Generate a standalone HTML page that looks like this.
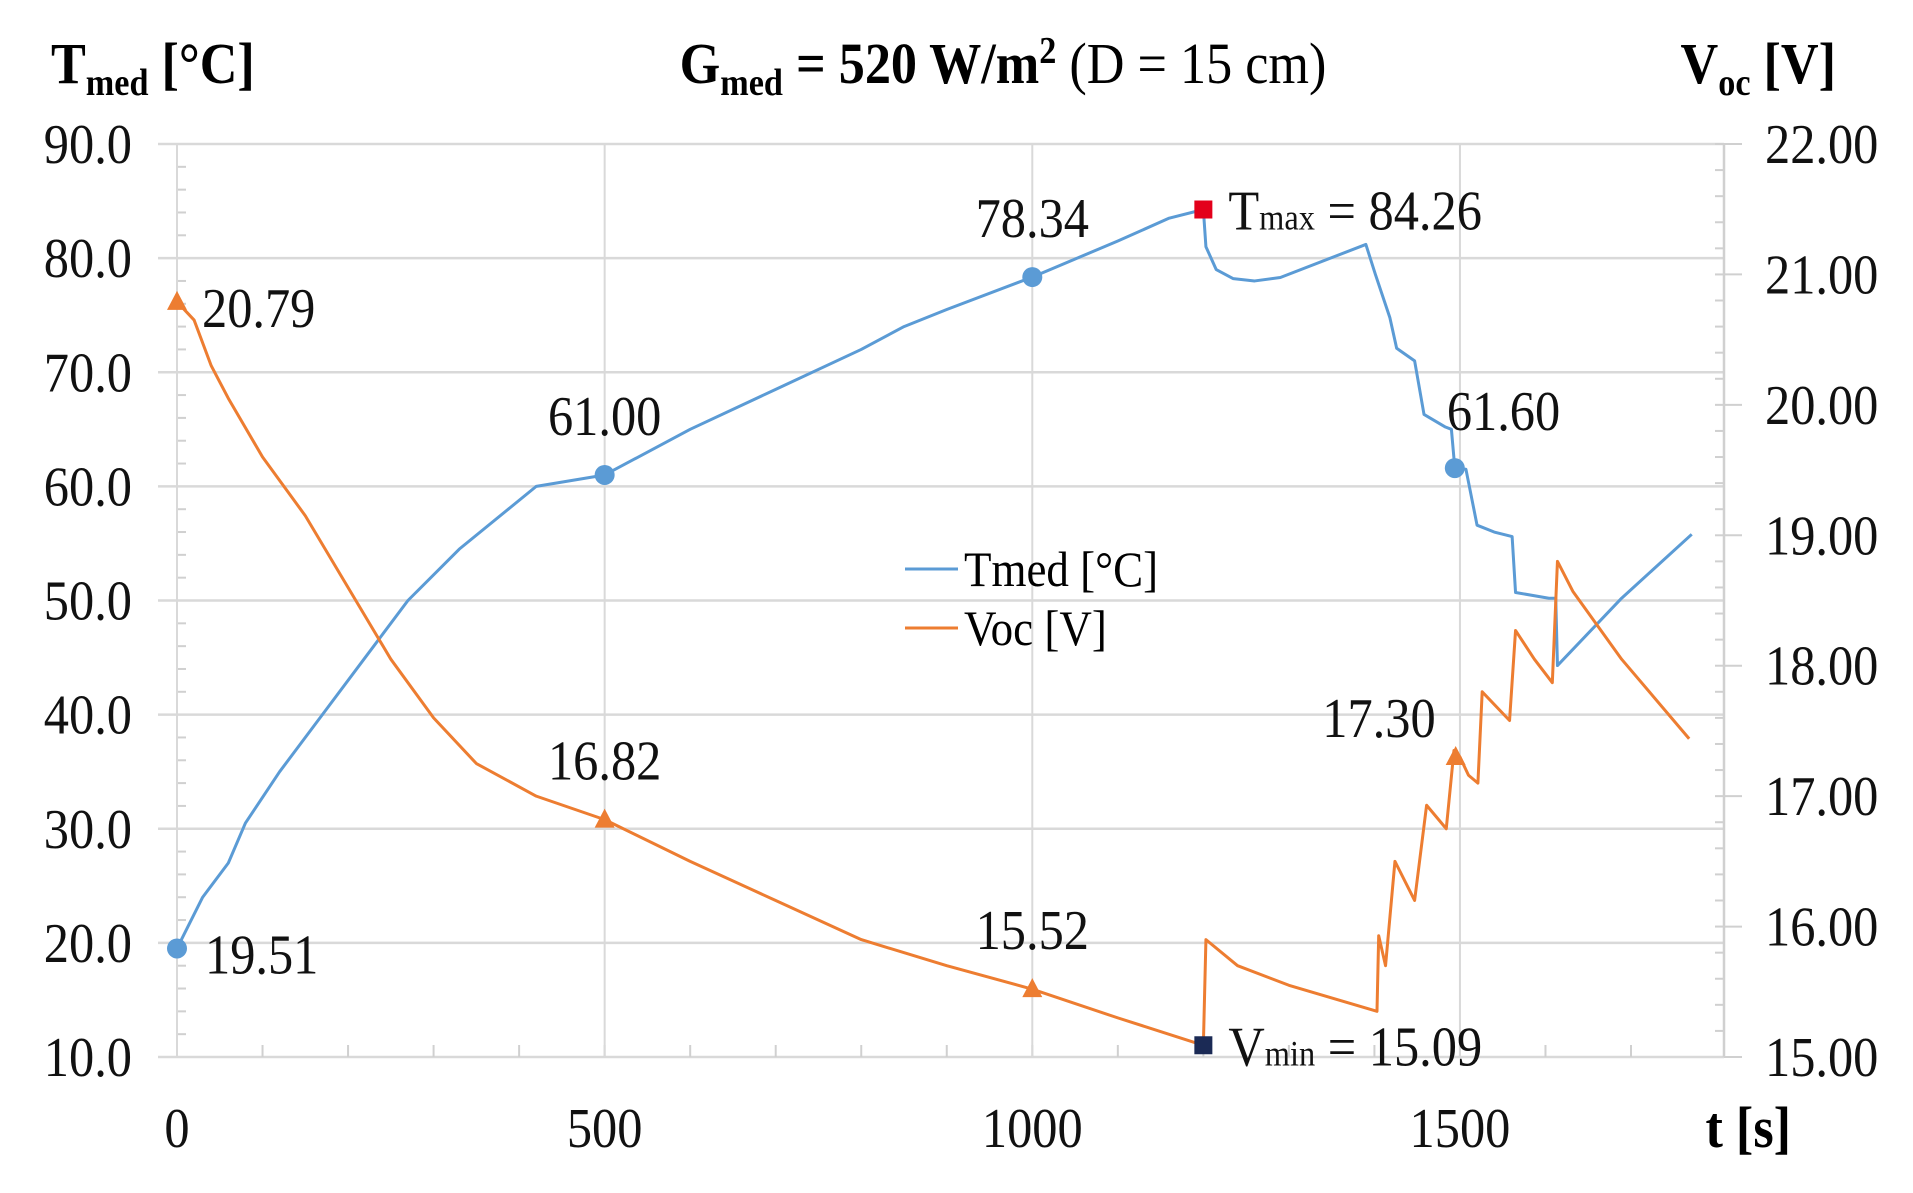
<!DOCTYPE html>
<html><head><meta charset="utf-8"><style>
html,body{margin:0;padding:0;background:#fff;}
svg{display:block;font-family:"Liberation Serif",serif;}
</style></head><body>
<svg id="chart" width="1913" height="1193" viewBox="0 0 1913 1193" xmlns="http://www.w3.org/2000/svg">
<rect width="1913" height="1193" fill="#fff"/>
<g id="grid"></g>
<g id="series"></g>
<g id="labels"></g>
<g transform="translate(51,83) scale(0.9,1)"><text font-size="58" font-weight="bold">T<tspan font-size="38" dy="12">med</tspan><tspan dy="-12"> [°C]</tspan></text></g>
<g transform="translate(1003,83) scale(0.9,1)"><text font-size="58" text-anchor="middle"><tspan font-weight="bold">G<tspan font-size="38" dy="12">med</tspan><tspan dy="-12"> = 520 W/m</tspan><tspan font-size="38" dy="-20">2</tspan></tspan><tspan dy="20"> (D = 15 cm)</tspan></text></g>
<g transform="translate(1836,83) scale(0.9,1)"><text font-size="58" font-weight="bold" text-anchor="end">V<tspan font-size="38" dy="12">oc</tspan><tspan dy="-12"> [V]</tspan></text></g>
<g transform="translate(1791,1147) scale(0.9,1)"><text font-size="58" font-weight="bold" text-anchor="end">t [s]</text></g>
<g>
<line x1="905" y1="569" x2="958" y2="569" stroke="#5b9bd5" stroke-width="3"/>
<g transform="translate(964,586) scale(0.9,1)"><text font-size="50">Tmed [°C]</text></g>
<line x1="905" y1="628" x2="958" y2="628" stroke="#ed7d31" stroke-width="3"/>
<g transform="translate(964,645) scale(0.9,1)"><text font-size="50">Voc [V]</text></g>
</g>
</svg>
<script>
const tTimes=[0,30,60,80,120,170,220,270,330,420,500,600,700,800,850,900,1000,1100,1160,1200,1203,1215,1235,1260,1290,1390,1401,1418,1426,1447,1458,1483,1490,1494,1507,1520,1540,1561,1565,1604,1612,1614,1689,1771];
const tValues=[19.51,24,27,30.5,35,40,45,50,54.5,60,61.0,65,68.5,72,74,75.5,78.34,81.5,83.5,84.26,81,79,78.2,78,78.3,81.2,78.6,74.8,72.1,71,66.3,65.2,65,61.6,61.5,56.6,56,55.6,50.7,50.2,50.2,44.3,50.2,55.8];
const vTimes=[0,20,40,60,100,150,200,250,300,350,420,500,600,700,800,900,1000,1100,1200,1203,1240,1300,1403,1405,1413,1424,1447,1461,1484,1493,1500,1510,1521,1526,1558,1565,1587,1608,1614,1632,1689,1768];
const vValues=[20.79,20.65,20.3,20.05,19.6,19.15,18.6,18.05,17.6,17.25,17.0,16.82,16.5,16.2,15.9,15.7,15.52,15.3,15.09,15.9,15.7,15.55,15.35,15.93,15.7,16.5,16.2,16.93,16.75,17.35,17.3,17.16,17.1,17.8,17.58,18.27,18.05,17.87,18.8,18.57,18.05,17.44];
const xTicks=[0,500,1000,1500];
const leftTicks=[10,20,30,40,50,60,70,80,90];
const rightTicks=[15,16,17,18,19,20,21,22];
const tMarkT=[0,500,1000,1494];
const tMarkV=[19.51,61.0,78.34,61.6];
const tMarkLabels=["19.51","61.00","78.34","61.60"];
const vMarkT=[0,500,1000,1495];
const vMarkV=[20.79,16.82,15.52,17.3];
const vMarkLabels=["20.79","16.82","15.52","17.30"];
const tMax=[1200,84.26];
const vMin=[1200,15.09];

const X0=177,XPX=0.8553,YT=144,YB=1057,XR=1724;
const X=t=>X0+t*XPX;
const YL=v=>YT+(90-v)*(YB-YT)/80;
const YR=v=>YT+(22-v)*(YB-YT)/7;
const NS="http://www.w3.org/2000/svg";
function mk(tag,attrs,parent){const e=document.createElementNS(NS,tag);for(const k in attrs)e.setAttribute(k,attrs[k]);parent.appendChild(e);return e;}
const grid=document.getElementById('grid'),ser=document.getElementById('series'),lab=document.getElementById('labels');
function label(x,y,str,anchor,parent){const g=mk('g',{transform:`translate(${x},${y}) scale(0.9,1)`},parent);const t=mk('text',{'font-size':56,'text-anchor':anchor,fill:'#111'},g);t.textContent=str;return g;}

leftTicks.forEach(v=>{const l=mk('line',{x1:158,x2:XR,y1:YL(v),y2:YL(v),stroke:'#d9d9d9','stroke-width':2.5},grid);


const g=label(132,YL(v)+19,v.toFixed(1),'end',lab);

});
for(let v=12;v<90;v+=2){if(v%10)mk('line',{x1:177,x2:186,y1:YL(v),y2:YL(v),stroke:'#d0d0d0','stroke-width':2},grid);}
for(let v=15.2;v<22;v+=0.2){mk('line',{x1:1715,x2:1724,y1:YR(v),y2:YR(v),stroke:'#d0d0d0','stroke-width':2},grid);}
rightTicks.forEach(v=>{mk('line',{x1:1724,x2:1742,y1:YR(v),y2:YR(v),stroke:'#d0d0d0','stroke-width':2},grid);
const g=label(1765,YR(v)+19,v.toFixed(2),'start',lab);

});
for(let t=100;t<1800;t+=100){mk('line',{x1:X(t),x2:X(t),y1:YB-12,y2:YB,stroke:'#d0d0d0','stroke-width':2},grid);}
xTicks.forEach(t=>{const l=mk('line',{x1:X(t),x2:X(t),y1:YT,y2:YB,stroke:'#d9d9d9','stroke-width':2},grid);


const g=label(X(t),1147,String(t),'middle',lab);

});
const ra=mk('line',{x1:XR,x2:XR,y1:YT,y2:YB,stroke:'#d0d0d0','stroke-width':2.5},grid);



const tl=mk('polyline',{points:tTimes.map((t,i)=>X(t)+','+YL(tValues[i])).join(' '),fill:'none',stroke:'#5b9bd5','stroke-width':3,'stroke-linejoin':'round'},ser);


const vl=mk('polyline',{points:vTimes.map((t,i)=>X(t)+','+YR(vValues[i])).join(' '),fill:'none',stroke:'#ed7d31','stroke-width':3,'stroke-linejoin':'round'},ser);



tMarkT.forEach((t,i)=>{const c=mk('circle',{cx:X(t),cy:YL(tMarkV[i]),r:10,fill:'#5b9bd5'},ser);

});
vMarkT.forEach((t,i)=>{const x=X(t),y=YR(vMarkV[i]);const p=mk('polygon',{points:`${x},${y-11} ${x-10},${y+8} ${x+10},${y+8}`,fill:'#ed7d31'},ser);

});
const sq1=mk('rect',{x:X(tMax[0])-9,y:YL(tMax[1])-9,width:18,height:18,fill:'#e3001b'},ser);


const sq2=mk('rect',{x:X(vMin[0])-9,y:YR(vMin[1])-9,width:18,height:18,fill:'#1b2a55'},ser);



const tOff=[[28,25,'start'],[0,-40,'middle'],[0,-40,'middle'],[-8,-38,'start']];
tMarkT.forEach((t,i)=>{const g=label(X(t)+tOff[i][0],YL(tMarkV[i])+tOff[i][1],tMarkLabels[i],tOff[i][2],lab);

});
const vOff=[[25,25,'start'],[0,-40,'middle'],[0,-40,'middle'],[-20,-20,'end']];
vMarkT.forEach((t,i)=>{const g=label(X(t)+vOff[i][0],YR(vMarkV[i])+vOff[i][1],vMarkLabels[i],vOff[i][2],lab);

});

function annot(x,y,main,sub,val,name){const g=mk('g',{transform:`translate(${x},${y}) scale(0.9,1)`},lab);const t=mk('text',{'font-size':56,fill:'#111'},g);
t.innerHTML=`${main}<tspan font-size="36">${sub}</tspan> = ${val}`;

}
annot(X(tMax[0])+25,YL(tMax[1])+20,'T','max',tMax[1].toFixed(2),'tmax-annotation');
annot(X(vMin[0])+25,YR(vMin[1])+20,'V','min',vMin[1].toFixed(2),'vmin-annotation');
</script>
</body></html>
